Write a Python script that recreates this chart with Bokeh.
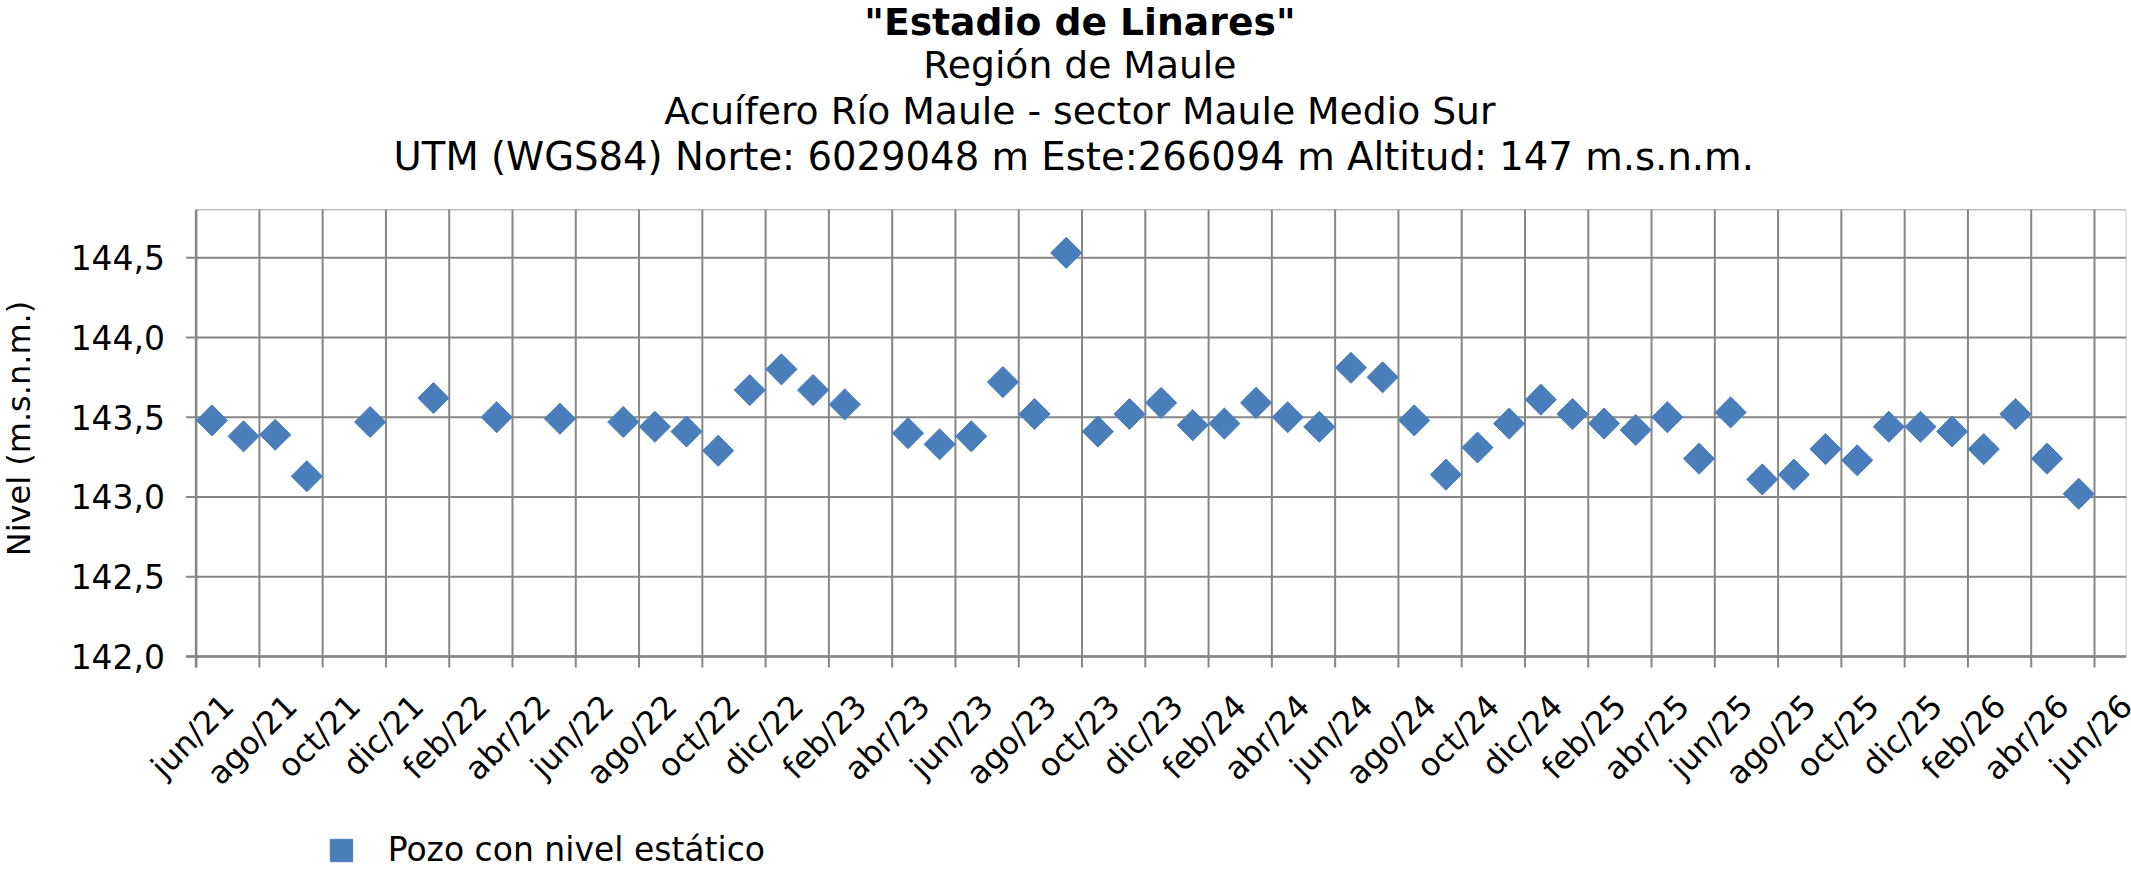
import math
from bokeh.plotting import figure
from bokeh.models import (ColumnDataSource, Range1d, Label, LabelSet, Legend, LegendItem)
from bokeh.core.properties import value
from bokeh.embed import file_html
from bokeh.resources import INLINE

# ---------------- data ----------------
title_lines = ['"Estadio de Linares"',
               "Región de Maule",
               "Acuífero Río Maule - sector Maule Medio Sur",
               "UTM (WGS84) Norte: 6029048 m Este:266094 m  Altitud: 147 m.s.n.m."]
y_title = "Nivel (m.s.n.m.)"
series_name = "Pozo con nivel estático"

months = ["2021-06", "2021-07", "2021-08", "2021-09", "2021-11", "2022-01", "2022-03", "2022-05",
          "2022-07", "2022-08", "2022-09", "2022-10", "2022-11", "2022-12", "2023-01", "2023-02",
          "2023-04", "2023-05", "2023-06", "2023-07", "2023-08", "2023-09", "2023-10", "2023-11", "2023-12",
          "2024-01", "2024-02", "2024-03", "2024-04", "2024-05", "2024-06", "2024-07", "2024-08",
          "2024-09", "2024-10", "2024-11", "2024-12",
          "2025-01", "2025-02", "2025-03", "2025-04", "2025-05", "2025-06", "2025-07", "2025-08",
          "2025-09", "2025-10", "2025-11", "2025-12",
          "2026-01", "2026-02", "2026-03", "2026-04", "2026-05"]
nivel = [143.48, 143.38, 143.39, 143.13, 143.47, 143.62, 143.50, 143.49,
         143.47, 143.44, 143.41, 143.29, 143.67, 143.80, 143.67, 143.58,
         143.40, 143.33, 143.38, 143.72, 143.52, 144.53, 143.41, 143.52, 143.59,
         143.45, 143.46, 143.59, 143.50, 143.44, 143.81, 143.75, 143.48,
         143.14, 143.31, 143.46, 143.61,
         143.52, 143.46, 143.42, 143.50, 143.24, 143.53, 143.11, 143.14,
         143.30, 143.23, 143.44, 143.44,
         143.41, 143.30, 143.52, 143.24, 143.02]

tick_labels = ["jun/21", "ago/21", "oct/21", "dic/21", "feb/22", "abr/22", "jun/22", "ago/22",
               "oct/22", "dic/22", "feb/23", "abr/23", "jun/23", "ago/23", "oct/23", "dic/23",
               "feb/24", "abr/24", "jun/24", "ago/24", "oct/24", "dic/24", "feb/25", "abr/25",
               "jun/25", "ago/25", "oct/25", "dic/25", "feb/26", "abr/26", "jun/26"]
y_ticks = [142.0, 142.5, 143.0, 143.5, 144.0, 144.5]
y_min, y_max = 142.0, 144.8
x_slots = 61            # monthly slots jun/21 .. jun/26

# ---------------- helpers ----------------
START_Y, START_M = 2021, 6
mes_num = {"ene": 1, "feb": 2, "mar": 3, "abr": 4, "may": 5, "jun": 6,
           "jul": 7, "ago": 8, "sep": 9, "oct": 10, "nov": 11, "dic": 12}


def month_index(year, month):
    return (year - START_Y) * 12 + (month - START_M)


# each measurement sits in the middle of its month slot
x_vals = [month_index(int(m[:4]), int(m[5:])) + 0.5 for m in months]
x_ticks = [month_index(2000 + int(t.split("/")[1]), mes_num[t.split("/")[0]]) for t in tick_labels]

# ---------------- layout (pixels) ----------------
W, H = 2131, 873
PLOT_LEFT, PLOT_TOP, PLOT_BOTTOM = 195.6, 209.3, 656.0
PX_PER_MONTH = 31.64
PX_PER_UNIT = (PLOT_BOTTOM - PLOT_TOP) / (y_max - y_min)
X_TICK_LEN, Y_TICK_LEN = 11, 10

x_start = -PLOT_LEFT / PX_PER_MONTH
x_end = (W - PLOT_LEFT) / PX_PER_MONTH
y_start = y_min - (H - PLOT_BOTTOM) / PX_PER_UNIT
y_end = y_min + PLOT_BOTTOM / PX_PER_UNIT

BLUE = "#4A7EBB"
GRID = "#868686"
FONT = "DejaVu Sans"

p = figure(width=W, height=H, output_backend="svg", toolbar_location=None, title=None,
           x_range=Range1d(x_start, x_end), y_range=Range1d(y_start, y_end),
           x_axis_location=None, y_axis_location=None, min_border=0,
           background_fill_color="white", border_fill_color="white")
p.outline_line_color = None
p.grid.visible = False

# plot area border (top / right, light)
p.segment(x0=[0], y0=[y_max], x1=[x_slots], y1=[y_max], line_color="#bdbdbd", line_width=1.5)
p.segment(x0=[x_slots], y0=[y_min], x1=[x_slots], y1=[y_max], line_color="#d9d9d9", line_width=1.5)

# vertical grid lines (extend below the axis as tick marks)
xt_len = X_TICK_LEN / PX_PER_UNIT
p.segment(x0=x_ticks, y0=[y_min - xt_len] * len(x_ticks), x1=x_ticks, y1=[y_max] * len(x_ticks),
          line_color=GRID, line_width=2)
# horizontal grid lines (extend left of the axis as tick marks)
yt_len = Y_TICK_LEN / PX_PER_MONTH
p.segment(x0=[-yt_len] * len(y_ticks), y0=y_ticks, x1=[x_slots] * len(y_ticks), y1=y_ticks,
          line_color=GRID, line_width=2)
# axis lines
p.segment(x0=[-yt_len], y0=[y_min], x1=[x_slots], y1=[y_min], line_color=GRID, line_width=2.5)
p.segment(x0=[0], y0=[y_min - xt_len], x1=[0], y1=[y_max], line_color=GRID, line_width=2.5)

# data
src = ColumnDataSource(dict(x=x_vals, y=nivel, mes=months))
r = p.scatter(x="x", y="y", source=src, marker="square", angle=math.pi / 4, size=22,
              fill_color=BLUE, line_color=BLUE, line_width=1)

# y tick labels
ysrc = ColumnDataSource(dict(y=y_ticks, x=[0] * len(y_ticks),
                             text=[f"{v:.1f}".replace(".", ",") for v in y_ticks]))
p.add_layout(LabelSet(x="x", y="y", text="text", source=ysrc, x_offset=-(Y_TICK_LEN + 21),
                      text_align="right", text_baseline="middle",
                      text_font=value(FONT), text_font_size=value("33px"), text_color="black"))

# x tick labels, rotated 45 degrees
xsrc = ColumnDataSource(dict(x=x_ticks, text=tick_labels))
p.add_layout(LabelSet(x="x", y=H - 700, y_units="screen", text="text", source=xsrc,
                      angle=math.pi / 4, x_offset=32, text_align="right", text_baseline="middle",
                      text_font=value(FONT), text_font_size=value("32px"), text_color="black"))

# titles (vertical middle of each line)
middles = [21.5, 64.9, 110.6, 155.6]
sizes = ["37.7px", "37.7px", "37.7px", "38.6px"]
for i, (t, ym) in enumerate(zip(title_lines, middles)):
    p.add_layout(Label(x=1079.4, y=H - ym, x_units="screen", y_units="screen", text=t,
                       text_align="center", text_baseline="middle",
                       text_font=FONT, text_font_size=sizes[i], text_color="black",
                       text_font_style="bold" if i == 0 else "normal"))

# y axis title
p.add_layout(Label(x=18, y=H - 428, x_units="screen", y_units="screen", text=y_title,
                   angle=math.pi / 2, text_align="center", text_baseline="middle",
                   text_font=FONT, text_font_size="32px", text_color="black"))

# legend
legend = Legend(items=[LegendItem(label=series_name, renderers=[r])],
                location=(312.7, H - 877.7), glyph_width=56, glyph_height=56,
                label_standoff=19, padding=0, margin=0, border_line_color=None,
                background_fill_alpha=0, label_text_font=FONT, label_text_font_size="33px",
                label_text_color="black")
p.add_layout(legend, "center")

open("out.html", "w").write(file_html(p, INLINE))
